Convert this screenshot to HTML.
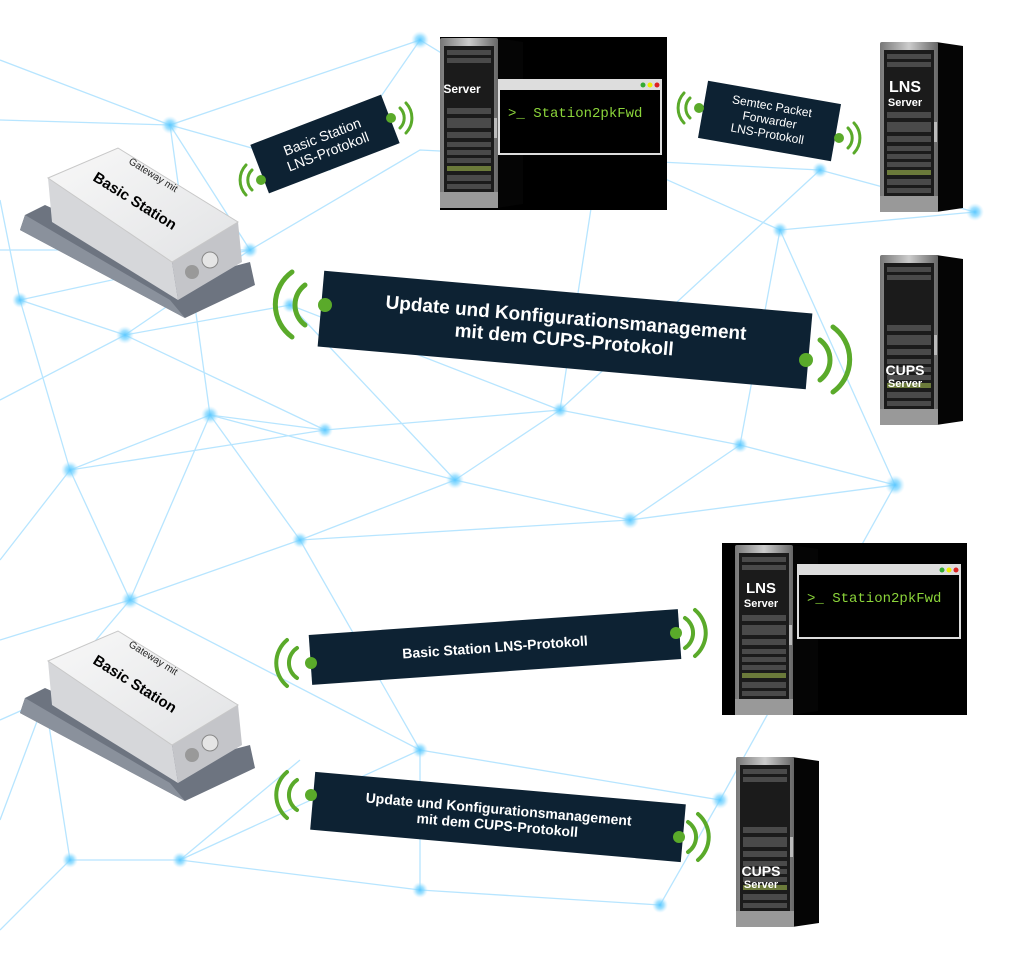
<!DOCTYPE html>
<html><head><meta charset="utf-8"><style>
html,body{margin:0;padding:0;background:#fff;}
body{width:1009px;height:958px;position:relative;overflow:hidden;font-family:"Liberation Sans",sans-serif;}
.lab{position:absolute;background:#0d2233;color:#fff;text-align:center;display:flex;align-items:center;justify-content:center;line-height:1.15;}
</style></head><body>
<svg width="1009" height="958" style="position:absolute;left:0;top:0">
<defs>
<radialGradient id="dg"><stop offset="0" stop-color="#5cc8ff"/><stop offset="0.5" stop-color="#7fd6ff" stop-opacity="0.7"/><stop offset="1" stop-color="#bfeaff" stop-opacity="0"/></radialGradient>
<linearGradient id="bez" x1="0" x2="1"><stop offset="0" stop-color="#777"/><stop offset="0.5" stop-color="#ccc"/><stop offset="1" stop-color="#666"/></linearGradient>
<linearGradient id="top" x1="0" y1="0" x2="1" y2="1"><stop offset="0" stop-color="#f8f8f8"/><stop offset="1" stop-color="#e2e3e5"/></linearGradient>
<g id="rack">
<polygon points="56,0 83,4 83,166 56,170" fill="#050505"/>
<rect x="0" y="0" width="58" height="170" rx="2" fill="url(#bez)"/>
<rect x="4" y="8" width="50" height="146" fill="#1b1b1b"/>
<rect x="0" y="154" width="58" height="16" fill="#999"/>
<g fill="#4a4a4a">
<rect x="7" y="12" width="44" height="5"/><rect x="7" y="20" width="44" height="5"/>
<rect x="7" y="70" width="44" height="6"/><rect x="7" y="80" width="44" height="10"/>
<rect x="7" y="94" width="44" height="6"/><rect x="7" y="104" width="44" height="5"/>
<rect x="7" y="112" width="44" height="5"/><rect x="7" y="120" width="44" height="5"/>
<rect x="7" y="137" width="44" height="6"/><rect x="7" y="146" width="44" height="5"/>
</g>
<rect x="7" y="128" width="44" height="5" fill="#6b7a3a"/>
<rect x="54" y="80" width="3" height="20" fill="#bbb"/>
</g>
<g id="gw">
<!-- base plate -->
<polygon points="25,215 45,205 200,275 250,262 255,285 185,318 170,310 20,230" fill="#6d7480"/>
<polygon points="25,215 170,300 185,318 20,230" fill="#8a919c"/>
<!-- long front face -->
<polygon points="48,178 172,262 178,300 52,222" fill="#d6d7da"/>
<!-- end face -->
<polygon points="172,262 238,222 242,262 178,300" fill="#c4c5c9"/>
<!-- top face -->
<polygon points="48,178 118,148 238,222 172,262" fill="url(#top)" stroke="#c8c8c8"/>
<circle cx="192" cy="272" r="7" fill="#999"/><circle cx="210" cy="260" r="8" fill="#e5e5e5" stroke="#888"/>
<text transform="translate(128,163) rotate(32)" font-size="10" fill="#222">Gateway mit</text>
<text transform="translate(92,180) rotate(32)" font-size="15" font-weight="bold" fill="#000">Basic Station</text>
</g>
</defs>
<g stroke="#9fdcff" stroke-width="1.3" opacity="0.75" fill="none">
<path d="M0,60 L170,125 L420,40 L600,150 L780,230 L975,212 M170,125 L210,415 L455,480 L630,520 L895,485 L740,445 L560,410 L325,430 L210,415 L70,470 L0,560 M125,335 L325,430 M125,335 L20,300 L0,200 M455,480 L560,410 M780,230 L740,445 M780,230 L895,485 M820,170 L975,212 M820,170 L560,410 M70,470 L130,600 L45,700 L0,820 M130,600 L420,750 L720,800 L660,905 L420,890 L180,860 L70,860 L0,930 M420,750 L180,860 M130,600 L300,540 L455,480 M300,540 L630,520 M210,415 L130,600 M0,400 L125,335 L290,305 L560,410 M420,40 L330,170 L170,125 M600,150 L560,410 M290,305 L455,480 M20,300 L70,470 M300,540 L420,750 M70,860 L45,700 M420,890 L420,750 M720,800 L895,485 M660,905 L720,800 M0,250 L250,250 L420,150 L820,170 M0,120 L170,125 L250,250 L125,335 M20,300 L250,250 M70,470 L325,430 M0,640 L130,600 M0,720 L45,700 M210,415 L300,540 M630,520 L740,445 M455,480 L300,540 M180,860 L300,760"/>
</g>
<g fill="url(#dg)">
<circle cx="170" cy="125" r="9"/><circle cx="420" cy="40" r="9"/><circle cx="975" cy="212" r="9"/><circle cx="780" cy="230" r="8"/><circle cx="820" cy="170" r="8"/><circle cx="210" cy="415" r="9"/><circle cx="455" cy="480" r="9"/><circle cx="630" cy="520" r="9"/><circle cx="895" cy="485" r="10"/><circle cx="740" cy="445" r="8"/><circle cx="560" cy="410" r="8"/><circle cx="325" cy="430" r="8"/><circle cx="70" cy="470" r="9"/><circle cx="125" cy="335" r="9"/><circle cx="20" cy="300" r="8"/><circle cx="130" cy="600" r="9"/><circle cx="45" cy="700" r="8"/><circle cx="420" cy="750" r="8"/><circle cx="720" cy="800" r="9"/><circle cx="660" cy="905" r="8"/><circle cx="420" cy="890" r="8"/><circle cx="180" cy="860" r="8"/><circle cx="70" cy="860" r="8"/><circle cx="300" cy="540" r="8"/><circle cx="290" cy="305" r="8"/><circle cx="600" cy="150" r="8"/><circle cx="250" cy="250" r="8"/>
</g>
<rect x="440" y="37" width="227" height="173" fill="#000"/>
<use href="#rack" x="440" y="38"/>
<rect x="499" y="80" width="162" height="74" fill="#000" stroke="#ddd" stroke-width="2"/>
<rect x="499" y="80" width="162" height="10" fill="#ddd"/>
<circle cx="643" cy="85" r="2.5" fill="#3a3"/><circle cx="650" cy="85" r="2.5" fill="#ee0"/><circle cx="657" cy="85" r="2.5" fill="#d22"/>
<text x="508" y="117" fill="#8bd43a" font-family="Liberation Mono,monospace" font-size="14">&gt;_ Station2pkFwd</text>
<text x="462" y="93" fill="#fff" font-weight="bold" font-size="12" text-anchor="middle">Server</text>
<use href="#rack" x="880" y="42"/>
<text x="905" y="92" fill="#fff" font-weight="bold" font-size="16" text-anchor="middle">LNS</text>
<text x="905" y="106" fill="#fff" font-weight="bold" font-size="11" text-anchor="middle">Server</text>
<use href="#rack" x="880" y="255"/>
<text x="905" y="375" fill="#fff" font-weight="bold" font-size="14" text-anchor="middle">CUPS</text>
<text x="905" y="387" fill="#fff" font-weight="bold" font-size="11" text-anchor="middle">Server</text>
<rect x="722" y="543" width="245" height="172" fill="#000"/>
<use href="#rack" x="735" y="545"/>
<rect x="798" y="565" width="162" height="73" fill="#000" stroke="#ddd" stroke-width="2"/>
<rect x="798" y="565" width="162" height="10" fill="#ddd"/>
<circle cx="942" cy="570" r="2.5" fill="#3a3"/><circle cx="949" cy="570" r="2.5" fill="#ee0"/><circle cx="956" cy="570" r="2.5" fill="#d22"/>
<text x="807" y="602" fill="#8bd43a" font-family="Liberation Mono,monospace" font-size="14">&gt;_ Station2pkFwd</text>
<text x="761" y="593" fill="#fff" font-weight="bold" font-size="15" text-anchor="middle">LNS</text>
<text x="761" y="607" fill="#fff" font-weight="bold" font-size="11" text-anchor="middle">Server</text>
<use href="#rack" x="736" y="757"/>
<text x="761" y="876" fill="#fff" font-weight="bold" font-size="14" text-anchor="middle">CUPS</text>
<text x="761" y="888" fill="#fff" font-weight="bold" font-size="11" text-anchor="middle">Server</text>
<use href="#gw" x="0" y="0"/>
<use href="#gw" x="0" y="483"/>
<g fill="none" stroke="#5aaa2a" stroke-linecap="round">
<g stroke-width="3"><path d="M252,170 a14,14 0 0 0 0,20"/><path d="M246,165 a22,22 0 0 0 0,30"/>
<path d="M400,108 a14,14 0 0 1 0,20"/><path d="M406,103 a22,22 0 0 1 0,30"/>
<path d="M690,98 a14,14 0 0 0 0,20"/><path d="M684,93 a22,22 0 0 0 0,30"/>
<path d="M848,128 a14,14 0 0 1 0,20"/><path d="M854,123 a22,22 0 0 1 0,30"/></g>
<g stroke-width="5"><path d="M305,285 a25,25 0 0 0 0,40"/><path d="M292,272 a40,40 0 0 0 0,65"/>
<path d="M820,340 a25,25 0 0 1 0,40"/><path d="M833,327 a40,40 0 0 1 0,65"/></g>
<g stroke-width="4"><path d="M297,648 a18,18 0 0 0 0,30"/><path d="M287,640 a30,30 0 0 0 0,46"/>
<path d="M685,618 a18,18 0 0 1 0,30"/><path d="M695,610 a30,30 0 0 1 0,46"/>
<path d="M297,780 a18,18 0 0 0 0,30"/><path d="M287,772 a30,30 0 0 0 0,46"/>
<path d="M688,822 a18,18 0 0 1 0,30"/><path d="M698,814 a30,30 0 0 1 0,46"/></g>
</g>
</svg>
<div class="lab" style="left:255px;top:118px;width:140px;height:52px;transform:rotate(-21deg);font-size:14px;">Basic Station<br>LNS-Protokoll</div>
<div class="lab" style="left:702px;top:92px;width:135px;height:58px;transform:rotate(10deg);font-size:12px;">Semtec Packet<br>Forwarder<br>LNS-Protokoll</div>
<div class="lab" style="left:320px;top:292px;width:490px;height:76px;transform:rotate(5deg);font-size:19px;font-weight:bold;">Update und Konfigurationsmanagement<br>mit dem CUPS-Protokoll</div>
<div class="lab" style="left:310px;top:622px;width:370px;height:50px;transform:rotate(-4deg);font-size:14px;font-weight:bold;">Basic Station LNS-Protokoll</div>
<div class="lab" style="left:312px;top:788px;width:372px;height:58px;transform:rotate(5deg);font-size:14px;font-weight:bold;">Update und Konfigurationsmanagement<br>mit dem CUPS-Protokoll</div>
<svg width="1009" height="958" style="position:absolute;left:0;top:0;pointer-events:none">
<g fill="#5aaa2a"><circle cx="261" cy="180" r="5"/><circle cx="391" cy="118" r="5"/><circle cx="699" cy="108" r="5"/><circle cx="839" cy="138" r="5"/>
<circle cx="325" cy="305" r="7"/><circle cx="806" cy="360" r="7"/><circle cx="311" cy="663" r="6"/><circle cx="676" cy="633" r="6"/><circle cx="311" cy="795" r="6"/><circle cx="679" cy="837" r="6"/></g>
</svg>
</body></html>
